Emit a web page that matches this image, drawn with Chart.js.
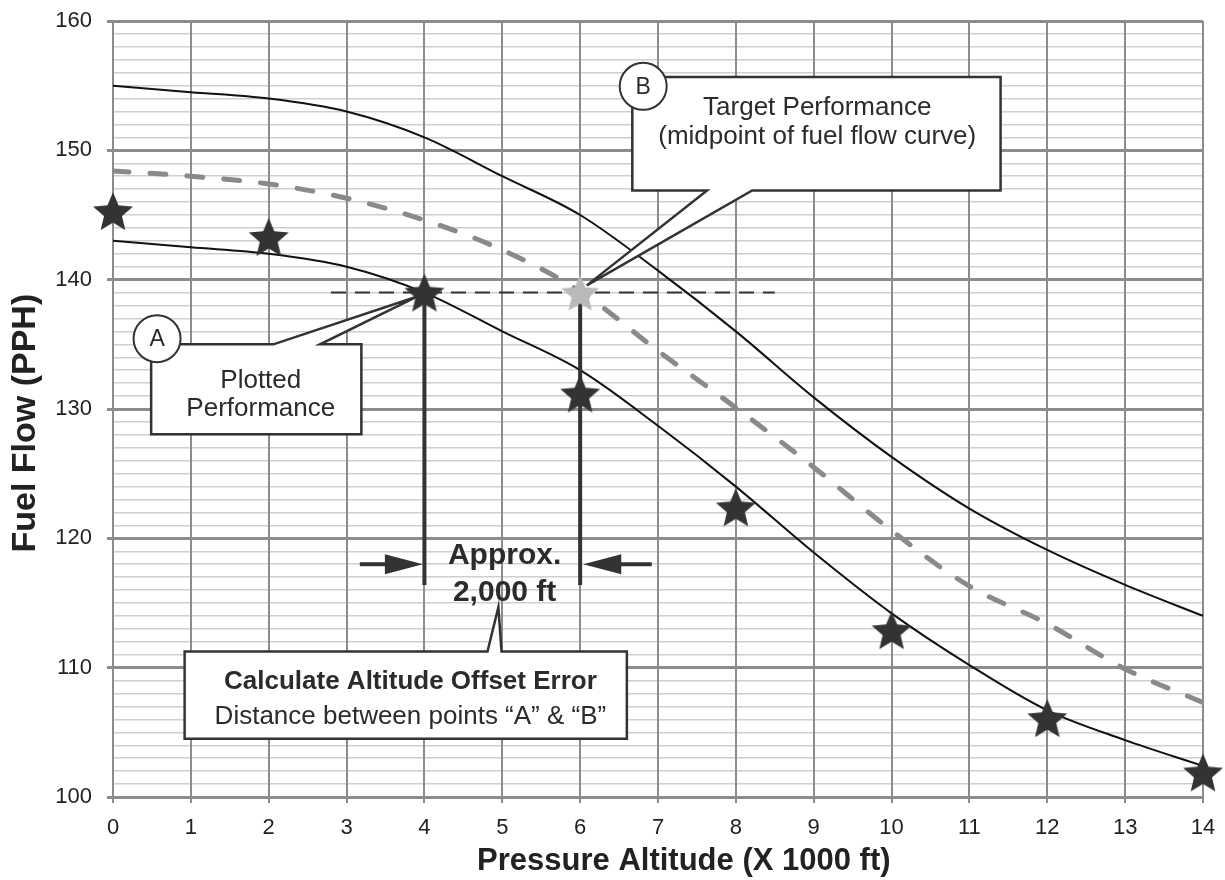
<!DOCTYPE html>
<html>
<head>
<meta charset="utf-8">
<title>Fuel Flow vs Pressure Altitude</title>
<script src="https://cdn.jsdelivr.net/npm/chart.js@4.4.1/dist/chart.umd.min.js"></script>
<style>
  html, body { margin: 0; padding: 0; background: #fff; }
  #wrap { width: 1225px; height: 880px; }
</style>
</head>
<body>
<div id="wrap"><canvas id="chart" width="1225" height="880"></canvas></div>
<script>
// pressure altitude (x 1000 ft) and the three fuel flow curves (PPH)
const altitude  = [0, 1, 2, 3, 4, 5, 6, 7, 8, 9, 10, 11, 12, 13, 14];
const upperFlow = [155, 154.5, 154, 153, 151, 148, 145, 140.7, 136, 130.9, 126.3, 122.3, 119.1, 116.4, 114];
const lowerFlow = [143, 142.5, 142, 141, 139, 136, 133, 128.7, 124, 118.9, 114.2, 110.2, 106.7, 104.4, 102.4];
const midFlow   = [148.4, 148, 147.4, 146.3, 144.6, 142.3, 139.1, 134.5, 130.1, 125.5, 120.6, 116.3, 113.4, 109.9, 107.3];

// plotted performance (stars) and target point B
const plottedAlt  = [0, 2, 4, 6, 8, 10, 12, 14];
const plottedFlow = [145.3, 143.3, 139, 131.2, 122.4, 112.9, 106.1, 101.9];
const targetAlt  = [6];
const targetFlow = [139];

// dashed guide at the target fuel flow, and the two drop lines
const guideAlt  = [2.8, 8.5];
const guideFlow = [139, 139];
const dropFlow  = [139, 116.4];
const dropAltA  = [4, 4];
const dropAltB  = [6, 6];

// tick labels
const yMajor = [100, 110, 120, 130, 140, 150, 160];

const FONT = "'Liberation Sans', Arial, sans-serif";
const INK = '#2b2b2b';

function pts(xs, ys) {
  return xs.map((x, i) => ({ x: x, y: ys[i] }));
}

// filled five point star used as point style
function makeStar(color, r) {
  const size = Math.ceil(r * 2 + 4);
  const c = document.createElement('canvas');
  c.width = size;
  c.height = size;
  const g = c.getContext('2d');
  const cx = size / 2, cy = size / 2 + 0.0955 * r;
  g.fillStyle = color;
  g.beginPath();
  for (let i = 0; i < 10; i++) {
    const rad = i % 2 === 0 ? r : r * 0.45;
    const a = -Math.PI / 2 + i * Math.PI / 5;
    g.lineTo(cx + rad * Math.cos(a), cy + rad * Math.sin(a));
  }
  g.closePath();
  g.fill();
  return c;
}

const darkStar = makeStar('#333333', 21);
const lightStar = makeStar('#b9b9b9', 20);

// annotation layout, in axis units
const arrows = [
  { from: 3.17, to: 3.98, y: 118 },
  { from: 6.92, to: 6.04, y: 118 }
];
const approxNote = { x: 5.03, y: 118.04, lines: ['Approx.', '2,000 ft'] };
const callouts = [
  {
    box: [0.49, 135.0, 3.19, 128.04], side: 'top', base: [2.06, 2.66], tip: [3.91, 138.7],
    badge: { x: 0.566, y: 135.44, text: 'A' }, textX: 1.898,
    lines: [{ t: 'Plotted', dy: 43.3 }, { t: 'Performance', dy: 72 }]
  },
  {
    box: [6.67, 155.67, 11.4, 146.9], side: 'bottom', base: [7.63, 8.21], tip: [6.085, 139.56],
    badge: { x: 6.81, y: 154.95, text: 'B' }, textX: 9.045,
    lines: [{ t: 'Target Performance', dy: 38.3 }, { t: '(midpoint of fuel flow curve)', dy: 66.6 }]
  },
  {
    box: [0.92, 111.25, 6.6, 104.5], side: 'top', base: [4.81, 4.99], tip: [4.95, 114.68],
    badge: null, textX: 3.82,
    lines: [{ t: 'Calculate Altitude Offset Error', dy: 37.3, bold: true },
            { t: 'Distance between points \u201CA\u201D & \u201CB\u201D', dy: 72.3 }]
  }
];

function drawArrow(ctx, x0, x1, yy) {
  const dir = x1 > x0 ? 1 : -1;
  const head = 38, half = 10;
  ctx.strokeStyle = '#333';
  ctx.fillStyle = '#333';
  ctx.lineWidth = 4;
  ctx.beginPath();
  ctx.moveTo(x0, yy);
  ctx.lineTo(x1 - dir * head + dir * 2, yy);
  ctx.stroke();
  ctx.beginPath();
  ctx.moveTo(x1, yy);
  ctx.lineTo(x1 - dir * head, yy - half);
  ctx.lineTo(x1 - dir * head, yy + half);
  ctx.closePath();
  ctx.fill();
}

function drawCallout(ctx, c, sx, sy) {
  const l = sx(c.box[0]), t = sy(c.box[1]), r = sx(c.box[2]), b = sy(c.box[3]);
  const b1 = sx(c.base[0]), b2 = sx(c.base[1]);
  const tx = sx(c.tip[0]), ty = sy(c.tip[1]);
  ctx.beginPath();
  ctx.moveTo(l, t);
  if (c.side === 'top') {
    ctx.lineTo(b1, t);
    ctx.lineTo(tx, ty);
    ctx.lineTo(b2, t);
  }
  ctx.lineTo(r, t);
  ctx.lineTo(r, b);
  if (c.side === 'bottom') {
    ctx.lineTo(b2, b);
    ctx.lineTo(tx, ty);
    ctx.lineTo(b1, b);
  }
  ctx.lineTo(l, b);
  ctx.closePath();
  ctx.fillStyle = '#fff';
  ctx.fill();
  ctx.lineWidth = 2.5;
  ctx.strokeStyle = '#333';
  ctx.lineJoin = 'miter';
  ctx.stroke();

  if (c.badge) {
    const bx = sx(c.badge.x), by = sy(c.badge.y);
    ctx.beginPath();
    ctx.arc(bx, by, 23.5, 0, Math.PI * 2);
    ctx.fillStyle = '#fff';
    ctx.fill();
    ctx.lineWidth = 2;
    ctx.stroke();
    ctx.fillStyle = INK;
    ctx.font = '23px ' + FONT;
    ctx.textAlign = 'center';
    ctx.textBaseline = 'middle';
    ctx.fillText(c.badge.text, bx, by + 1);
  }

  ctx.fillStyle = INK;
  ctx.textAlign = 'center';
  ctx.textBaseline = 'alphabetic';
  c.lines.forEach(function (ln) {
    ctx.font = (ln.bold ? 'bold ' : '') + '26px ' + FONT;
    ctx.fillText(ln.t, sx(c.textX), t + ln.dy);
  });
}

const notesPlugin = {
  id: 'notes',
  afterDatasetsDraw(chart) {
    const ctx = chart.ctx;
    const xs = chart.scales.x, ys = chart.scales.y;
    const sx = v => xs.getPixelForValue(v);
    const sy = v => ys.getPixelForValue(v);
    ctx.save();
    arrows.forEach(a => drawArrow(ctx, sx(a.from), sx(a.to), sy(a.y)));

    ctx.fillStyle = INK;
    ctx.font = 'bold 30px ' + FONT;
    ctx.textAlign = 'center';
    ctx.textBaseline = 'alphabetic';
    ctx.fillText(approxNote.lines[0], sx(approxNote.x), sy(approxNote.y));
    ctx.fillText(approxNote.lines[1], sx(approxNote.x), sy(approxNote.y) + 37);

    callouts.forEach(c => drawCallout(ctx, c, sx, sy));
    ctx.restore();
  }
};

// Chart.js paints the first dataset last, so the stars come first
const ctx = document.getElementById('chart').getContext('2d');
const chart = new Chart(ctx, {
  type: 'scatter',
  data: {
    datasets: [
      {
        data: pts(targetAlt, targetFlow), showLine: false, pointStyle: lightStar,
        pointRadius: 18, clip: false
      },
      {
        data: pts(plottedAlt, plottedFlow), showLine: false, pointStyle: darkStar,
        pointRadius: 18, clip: false
      },
      {
        data: pts(dropAltA, dropFlow), showLine: true, borderColor: '#333', borderWidth: 4, pointRadius: 0
      },
      {
        data: pts(dropAltB, dropFlow), showLine: true, borderColor: '#333', borderWidth: 4, pointRadius: 0
      },
      {
        data: pts(guideAlt, guideFlow), showLine: true, borderColor: '#333', borderWidth: 2,
        borderDash: [15, 9], pointRadius: 0
      },
      {
        data: pts(altitude, midFlow), showLine: true, borderColor: '#8a8a8a', borderWidth: 5,
        borderDash: [16, 21], borderCapStyle: 'round', pointRadius: 0, cubicInterpolationMode: 'monotone'
      },
      {
        data: pts(altitude, upperFlow), showLine: true, borderColor: '#111', borderWidth: 2,
        pointRadius: 0, cubicInterpolationMode: 'monotone'
      },
      {
        data: pts(altitude, lowerFlow), showLine: true, borderColor: '#111', borderWidth: 2,
        pointRadius: 0, cubicInterpolationMode: 'monotone'
      }
    ]
  },
  options: {
    responsive: false,
    animation: false,
    devicePixelRatio: 1,
    layout: { padding: { top: 21, right: 22, left: 0, bottom: 0 } },
    plugins: {
      legend: { display: false },
      tooltip: { enabled: false }
    },
    scales: {
      y: {
        type: 'linear',
        min: 100,
        max: 160,
        afterFit: function (scale) {
          scale.width = 113;
          scale.paddingTop = 0;
          scale.paddingBottom = 0;
        },
        ticks: {
          stepSize: 1,
          autoSkip: false,
          padding: 15,
          color: '#222',
          font: { family: FONT, size: 22 },
          callback: v => yMajor.includes(v) ? String(v) : ''
        },
        grid: {
          color: c => yMajor.includes(c.tick.value) ? '#8c8c8c' : '#cfcfcf',
          lineWidth: c => yMajor.includes(c.tick.value) ? 3 : 1.5,
          tickColor: c => yMajor.includes(c.tick.value) ? '#8c8c8c' : 'rgba(0,0,0,0)',
          tickLength: 6
        },
        border: { color: '#8c8c8c', width: 2 },
        title: {
          display: true,
          text: 'Fuel Flow (PPH)   ',
          color: '#222',
          font: { family: FONT, size: 34, weight: 'bold' },
          padding: { top: 5, bottom: 0 }
        }
      },
      x: {
        type: 'linear',
        min: 0,
        max: 14,
        afterFit: function (scale) {
          scale.height = 83;
          scale.paddingLeft = 0;
          scale.paddingRight = 0;
        },
        ticks: {
          stepSize: 1,
          autoSkip: false,
          maxRotation: 0,
          padding: 12,
          color: '#222',
          font: { family: FONT, size: 22 }
        },
        grid: {
          color: '#8c8c8c',
          lineWidth: 2,
          tickColor: '#8c8c8c',
          tickLength: 6
        },
        border: { color: '#8c8c8c', width: 3 },
        title: {
          display: true,
          text: '      Pressure Altitude (X 1000 ft)',
          color: '#222',
          font: { family: FONT, size: 31, weight: 'bold' },
          padding: { top: 0, bottom: 0 }
        }
      }
    }
  },
  plugins: [notesPlugin]
});
</script>
</body>
</html>
